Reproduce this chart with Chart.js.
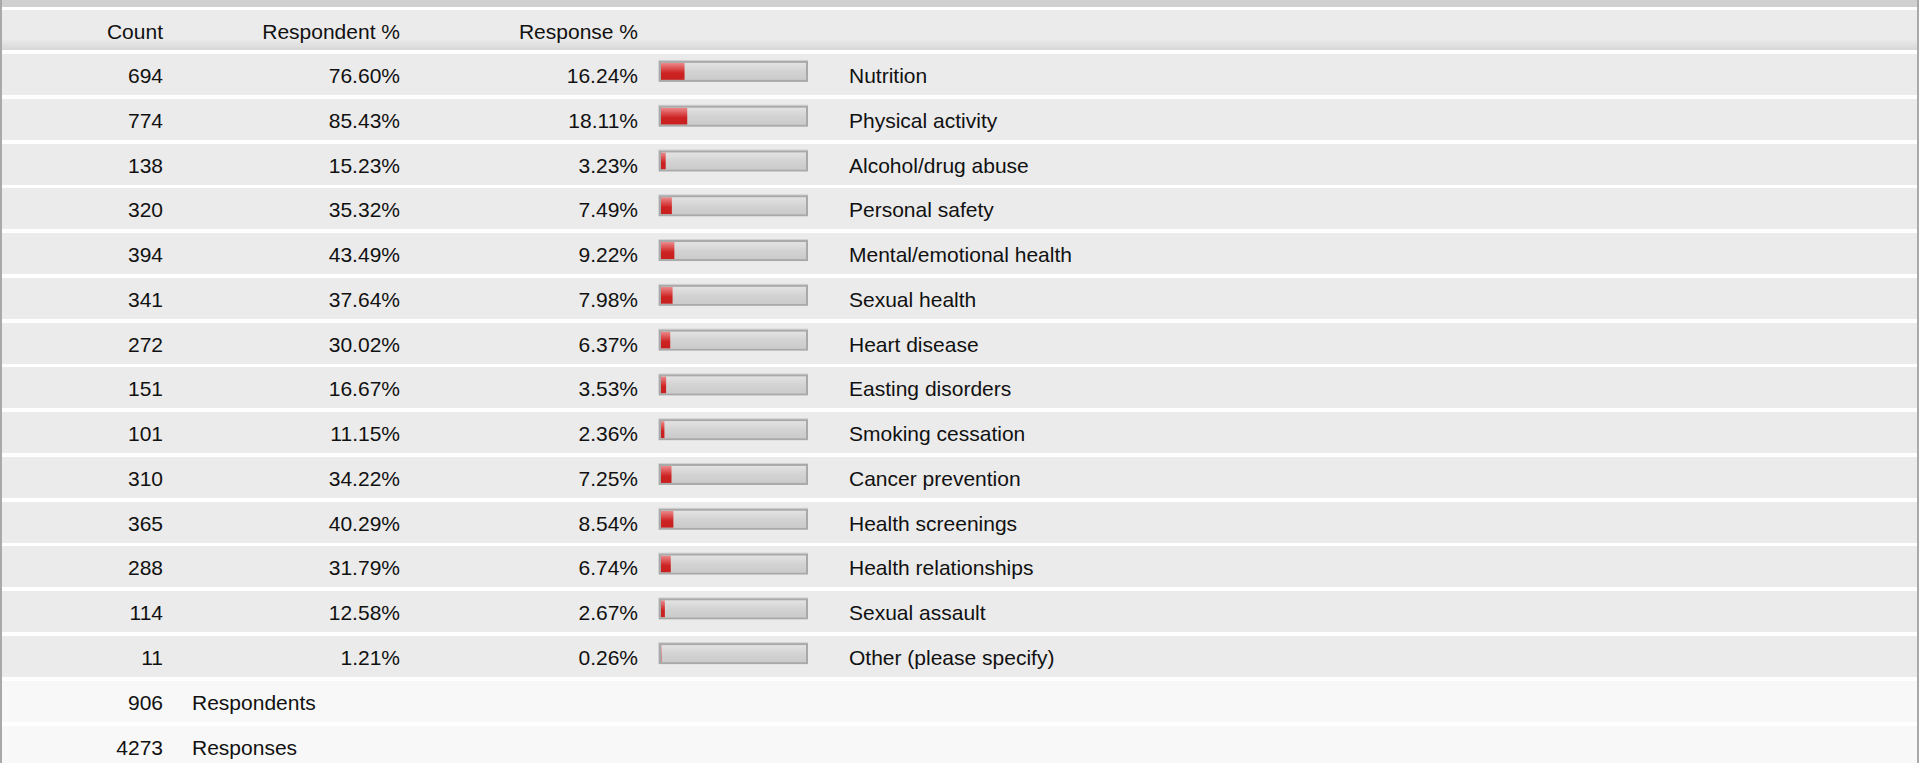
<!DOCTYPE html>
<html>
<head>
<meta charset="utf-8">
<title>Health topics</title>
<script src="https://cdn.jsdelivr.net/npm/chart.js@4/dist/chart.umd.min.js"></script>
<style>
  body { margin:0; width:1919px; height:763px; overflow:hidden; background:#fff; position:relative;
         font-family:"Liberation Sans", Arial, sans-serif; font-size:21px; color:#111; }
  .strip { position:absolute; left:0; top:0; width:1919px; height:7px; background:#d0d0d0; }
  .lb, .rb { position:absolute; top:0; width:2px; height:763px; background:#a9a9a9; z-index:3; }
  .lb { left:0; }
  .rb { left:1917px; }
  .row { position:absolute; left:0; width:1919px; height:41px; background:#ebebeb; }
  .row.sum { background:#f8f8f8; }
  .row.head { height:40px; background:linear-gradient(#ebebeb 0, #ebebeb 72%, #d7d7d7 100%); }
  .c { position:absolute; top:1px; line-height:41px; white-space:nowrap; }
  .r { left:0; text-align:right; }
  #wrap { position:absolute; left:650px; top:49px; width:170px; height:627px; z-index:2; }
</style>
</head>
<body>
<div class="strip"></div>
<div class="lb"></div>
<div class="rb"></div>
<div id="rows"></div>
<div id="wrap"><canvas id="bars" width="170" height="627"></canvas></div>

<script>
// table data
const headers = ["Count", "Respondent %", "Response %"];
const categories = ["Nutrition", "Physical activity", "Alcohol/drug abuse", "Personal safety",
  "Mental/emotional health", "Sexual health", "Heart disease", "Easting disorders",
  "Smoking cessation", "Cancer prevention", "Health screenings", "Health relationships",
  "Sexual assault", "Other (please specify)"];
const counts = [694, 774, 138, 320, 394, 341, 272, 151, 101, 310, 365, 288, 114, 11];
const respondentPct = [76.60, 85.43, 15.23, 35.32, 43.49, 37.64, 30.02, 16.67, 11.15, 34.22, 40.29, 31.79, 12.58, 1.21];
const responsePct = [16.24, 18.11, 3.23, 7.49, 9.22, 7.98, 6.37, 3.53, 2.36, 7.25, 8.54, 6.74, 2.67, 0.26];
const summaryLabels = ["Respondents", "Responses"];
const summaryValues = [906, 4273];
const scaleMax = 100;

// build rows
const rowsEl = document.getElementById("rows");
const pitch = 44.77;
function addRow(top, cls) {
  const r = document.createElement("div");
  r.className = "row" + (cls ? " " + cls : "");
  r.style.top = top + "px";
  rowsEl.appendChild(r);
  return r;
}
function cell(row, text, right, left) {
  const s = document.createElement("span");
  s.className = "c";
  s.textContent = text;
  if (right != null) { s.classList.add("r"); s.style.width = right + "px"; }
  else s.style.left = left + "px";
  row.appendChild(s);
}
const colRight = [163, 400, 638];

const head = addRow(10, "head");
headers.forEach((h, i) => cell(head, h, colRight[i]));

categories.forEach((name, i) => {
  const r = addRow(Math.round(54 + i * pitch));
  cell(r, String(counts[i]), colRight[0]);
  cell(r, respondentPct[i].toFixed(2) + "%", colRight[1]);
  cell(r, responsePct[i].toFixed(2) + "%", colRight[2]);
  cell(r, name, null, 849);
});

summaryLabels.forEach((lab, i) => {
  const r = addRow(Math.round(681 + i * pitch), "sum");
  cell(r, String(summaryValues[i]), colRight[0]);
  cell(r, lab, null, 192);
});

// vertical gradient per bar, placed from the category scale
function vGrad(stops, half) {
  return c => {
    const s = c.chart.scales.y;
    const fallback = stops[stops.length - 1][1];
    if (!s || c.dataIndex === undefined) return fallback;
    const y = s.getPixelForValue(c.dataIndex);
    if (!isFinite(y)) return fallback;
    const g = c.chart.ctx.createLinearGradient(0, y - half, 0, y + half);
    stops.forEach(([o, col]) => g.addColorStop(o, col));
    return g;
  };
}

// frame around each track bar
const trackBorder = {
  id: "trackBorder",
  afterDatasetsDraw(chart) {
    const ctx = chart.ctx;
    const meta = chart.getDatasetMeta(1);
    ctx.save();
    meta.data.forEach(b => {
      const x0 = Math.min(b.base, b.x), x1 = Math.max(b.base, b.x);
      const y0 = b.y - b.height / 2, y1 = b.y + b.height / 2;
      ctx.strokeStyle = "#d2d2d2";
      ctx.lineWidth = 1;
      ctx.beginPath();
      ctx.moveTo(x0 - 2.5, y1 + 2);
      ctx.lineTo(x0 - 2.5, y0 - 2.5);
      ctx.lineTo(x1 + 2, y0 - 2.5);
      ctx.stroke();
      ctx.strokeStyle = "#a9a9a9";
      ctx.lineWidth = 2;
      ctx.strokeRect(x0 - 1, y0 - 1, x1 - x0 + 2, y1 - y0 + 2);
    });
    ctx.restore();
  }
};

new Chart(document.getElementById("bars"), {
  type: "bar",
  data: {
    labels: categories,
    datasets: [
      {
        label: "Response %",
        data: responsePct,
        backgroundColor: vGrad([[0, "#ec8a8a"], [0.45, "#d63a3a"], [0.6, "#cc2222"], [1, "#c81f1f"]], 8.5),
        barThickness: 17,
        grouped: false,
        borderWidth: 0,
        inflateAmount: 0,
        order: 1
      },
      {
        label: "track",
        data: categories.map(() => scaleMax),
        backgroundColor: vGrad([[0, "#e3e3e3"], [0.5, "#d3d3d3"], [1, "#cbcbcb"]], 8.5),
        barThickness: 17,
        grouped: false,
        borderWidth: 0,
        inflateAmount: 0,
        order: 2
      }
    ]
  },
  options: {
    indexAxis: "y",
    responsive: false,
    animation: false,
    events: [],
    layout: { padding: { left: 11, right: 14, top: 0, bottom: 0 } },
    scales: {
      x: { display: false, min: 0, max: scaleMax },
      y: { display: false }
    },
    plugins: { legend: { display: false }, tooltip: { enabled: false } }
  },
  plugins: [trackBorder]
});
</script>
</body>
</html>
